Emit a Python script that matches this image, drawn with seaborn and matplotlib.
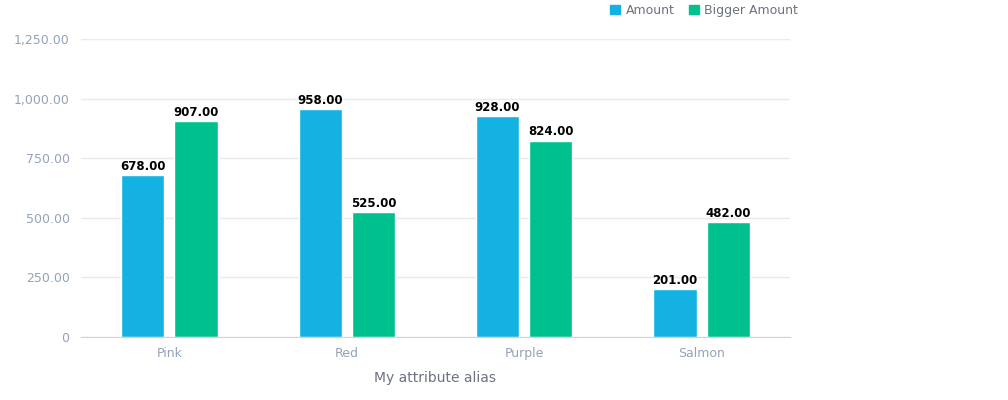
import pandas as pd
import matplotlib.pyplot as plt
import seaborn as sns
from matplotlib.ticker import FuncFormatter

# 데이터
categories = ['Pink', 'Red', 'Purple', 'Salmon']
amount = [678, 958, 928, 201]
bigger_amount = [907, 525, 824, 482]
series_names = ['Amount', 'Bigger Amount']
palette = ['#14B2E2', '#00C18D']

df = pd.DataFrame({
    'category': categories * 2,
    'value': amount + bigger_amount,
    'series': [series_names[0]] * 4 + [series_names[1]] * 4,
})

sns.set_style('white')
plt.rcParams['font.family'] = ['DejaVu Sans']

fig = plt.figure(figsize=(10.08, 4.0), dpi=100)
ax = fig.add_axes([0.080, 0.1575, 0.704, 0.745])

sns.barplot(data=df, x='category', y='value', hue='series', palette=palette,
            width=0.60, gap=0.19, ax=ax, saturation=1, legend=False)

for cont in ax.containers:
    ax.bar_label(cont, labels=[f'{v:,.2f}' for v in cont.datavalues],
                 padding=1.5, fontsize=8.5, fontweight='bold', color='black')

ax.set_ylim(0, 1250)
ax.set_yticks([0, 250, 500, 750, 1000, 1250])
ax.yaxis.set_major_formatter(FuncFormatter(lambda v, p: '0' if v == 0 else f'{v:,.2f}'))
ax.grid(axis='y', color='#E8EAED', linewidth=1)
ax.set_axisbelow(True)
for s in ['top', 'right', 'left']:
    ax.spines[s].set_visible(False)
ax.spines['bottom'].set_color('#CBD5E1')
ax.tick_params(axis='both', length=0, labelsize=9, colors='#94A3B8', pad=8)
ax.tick_params(axis='x', pad=7)
ax.set_xlabel('My attribute alias', fontsize=10, color='#6B7280', labelpad=8)
ax.set_ylabel('')

handles = [plt.Rectangle((0, 0), 1, 1, color=c) for c in palette]
fig.legend(handles, series_names, loc='upper right', bbox_to_anchor=(0.803, 1.018),
           ncol=2, frameon=False, fontsize=9, labelcolor='#6B7280',
           handlelength=0.8, handleheight=0.8, handletextpad=0.4, columnspacing=1.2)

fig.savefig('out.png', dpi=100)
